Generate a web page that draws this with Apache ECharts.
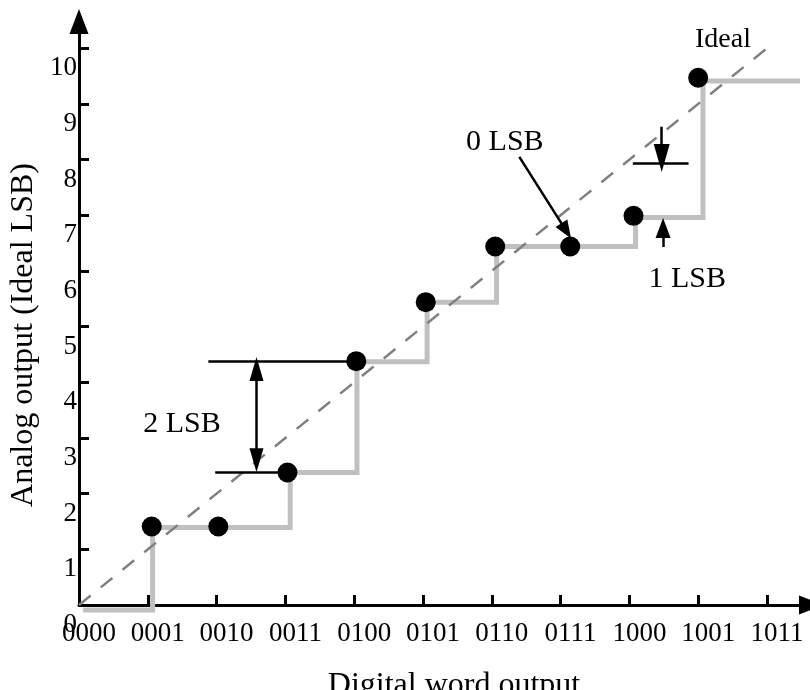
<!DOCTYPE html>
<html>
<head>
<meta charset="utf-8">
<script src="https://cdn.jsdelivr.net/npm/echarts@6/dist/echarts.min.js"></script>
<style>
html,body{margin:0;padding:0;background:#fff;}
#chart{width:810px;height:690px;}
</style>
</head>
<body>
<div id="chart"></div>
<script>
// ---- data ----
const xLabels = ['0000','0001','0010','0011','0100','0101','0110','0111','1000','1001','1011'];
const xTickValues = [1,2,3,4,5,6,7,8,9,10];
const yLabelValues = [0,1,2,3,4,5,6,7,8,9,10];
const yTickValues = [1,2,3,4,5,6,7,8,9,10];

// actual (non-ideal) transfer step curve
const stepX = [0.06, 1.07, 1.07, 3.07, 3.07, 4.04, 4.04, 5.06, 5.06, 6.07, 6.07, 8.09, 8.09, 9.07, 9.07, 10.48];
const stepY = [-0.09, -0.09, 1.39, 1.39, 2.38, 2.38, 4.37, 4.37, 5.44, 5.44, 6.44, 6.44, 6.96, 6.96, 9.41, 9.41];

// measured output points
const dotX = [1.057, 2.025, 3.03, 4.03, 5.04, 6.05, 7.14, 8.06, 9.0];
const dotY = [1.41, 1.41, 2.38, 4.38, 5.44, 6.44, 6.44, 6.99, 9.47];

// ideal line
const idealX = [0, 10];
const idealY = [0, 10];

// reference lines for LSB annotations [x1, y1, x2, y2]
const refLines = [
  [1.88, 4.38, 4.03, 4.38],
  [1.98, 2.38, 3.03, 2.38],
  [8.05, 7.94, 8.86, 7.94]
];
// annotation arrows [x1, y1, x2, y2]
const arrowLines = [
  [2.58, 4.24, 2.58, 2.60],
  [6.40, 8.05, 7.082, 6.72],
  [8.47, 8.59, 8.47, 8.03],
  [8.49, 6.43, 8.49, 6.77]
];
const noteTexts = ['2 LSB', '0 LSB', '1 LSB', 'Ideal'];
const noteX = [1.498, 6.19, 8.84, 9.36];
const noteY = [3.246, 8.31, 5.85, 10.16];

// ---- build ----
const FONT = "'Liberation Serif', 'Times New Roman', serif";
const zip = (a, b) => a.map((v, i) => [v, b[i]]);

const arrowStyle = [
  {s: 'triangle', e: 'triangle', size: [14, 24]},
  {s: 'none', e: 'triangle', size: [14, 18]},
  {s: 'none', e: 'triangle', size: [16, 28]},
  {s: 'none', e: 'triangle', size: [15, 20]}
];
const markData = [];
refLines.forEach(l => {
  markData.push([{coord: [l[0], l[1]], symbol: 'none'}, {coord: [l[2], l[3]], symbol: 'none'}]);
});
arrowLines.forEach((l, i) => {
  const st = arrowStyle[i];
  markData.push([
    {coord: [l[0], l[1]], symbol: st.s, symbolSize: st.size},
    {coord: [l[2], l[3]], symbol: st.e, symbolSize: st.size}
  ]);
});

const noteData = noteTexts.map((t, i) => ({
  name: t,
  value: [noteX[i], noteY[i]],
  label: {fontSize: t === 'Ideal' ? 28 : 30}
}));

const chart = echarts.init(document.getElementById('chart'), null, {renderer: 'canvas'});
chart.setOption({
  animation: false,
  backgroundColor: '#fff',
  grid: {left: 79, right: 10, top: 31, bottom: 85, containLabel: false, outerBoundsMode: 'none'},
  xAxis: {
    type: 'value', min: 0, max: 10.48, interval: 1,
    splitLine: {show: false},
    axisLine: {
      show: true, onZero: false,
      lineStyle: {color: '#000', width: 3},
      symbol: ['none', 'triangle'], symbolSize: [19, 25], symbolOffset: [0, 11.5]
    },
    axisTick: {show: true, inside: true, length: 10, lineStyle: {color: '#000', width: 3}, customValues: xTickValues},
    axisLabel: {
      show: true, color: '#000', fontFamily: FONT, fontSize: 27, margin: 15,
      padding: [0, 0, 0, 20],
      customValues: yLabelValues,
      formatter: v => xLabels[Math.round(v)] || ''
    },
    name: 'Digital word output',
    nameLocation: 'middle',
    nameGap: 65,
    nameTextStyle: {color: '#000', fontFamily: FONT, fontSize: 32, padding: [0, 0, 0, 29]}
  },
  yAxis: {
    type: 'value', min: 0, max: 10.31, interval: 1,
    splitLine: {show: false},
    axisLine: {
      show: true, onZero: false,
      lineStyle: {color: '#000', width: 3},
      symbol: ['none', 'triangle'], symbolSize: [19, 25], symbolOffset: [0, 9.5]
    },
    axisTick: {show: true, inside: true, length: 10, lineStyle: {color: '#000', width: 3}, customValues: yTickValues},
    axisLabel: {
      show: true, color: '#000', fontFamily: FONT, fontSize: 27, margin: 2,
      verticalAlign: 'top', lineHeight: 40,
      customValues: yLabelValues,
      formatter: v => String(Math.round(v))
    },
    name: 'Analog output (Ideal LSB)',
    nameLocation: 'middle',
    nameGap: 37,
    nameTextStyle: {color: '#000', fontFamily: FONT, fontSize: 32, padding: [0, 34, 0, 0]}
  },
  series: [
    {
      type: 'line', data: zip(stepX, stepY), showSymbol: false, symbol: 'none', clip: false, z: 2,
      lineStyle: {color: '#c0c0c0', width: 5, cap: 'butt', join: 'miter'}, silent: true
    },
    {
      type: 'line', data: zip(idealX, idealY), showSymbol: false, symbol: 'none', z: 3,
      lineStyle: {color: '#808080', width: 2.5, type: [15, 13]}, silent: true,
      markLine: {
        silent: true, animation: false, z: 4,
        symbol: ['none', 'none'],
        label: {show: false},
        lineStyle: {color: '#000', width: 2.5, type: 'solid'},
        emphasis: {disabled: true},
        data: markData
      }
    },
    {
      type: 'scatter', data: zip(dotX, dotY), symbolSize: 20, z: 10,
      itemStyle: {color: '#000', opacity: 1}, silent: true
    },
    {
      type: 'scatter', data: noteData, symbolSize: 1, z: 11, silent: true,
      itemStyle: {color: 'rgba(0,0,0,0)', opacity: 1},
      label: {
        show: true, position: 'inside', formatter: p => p.name,
        color: '#000', fontFamily: FONT, fontSize: 30, align: 'center', verticalAlign: 'middle'
      }
    }
  ]
});
</script>
</body>
</html>
